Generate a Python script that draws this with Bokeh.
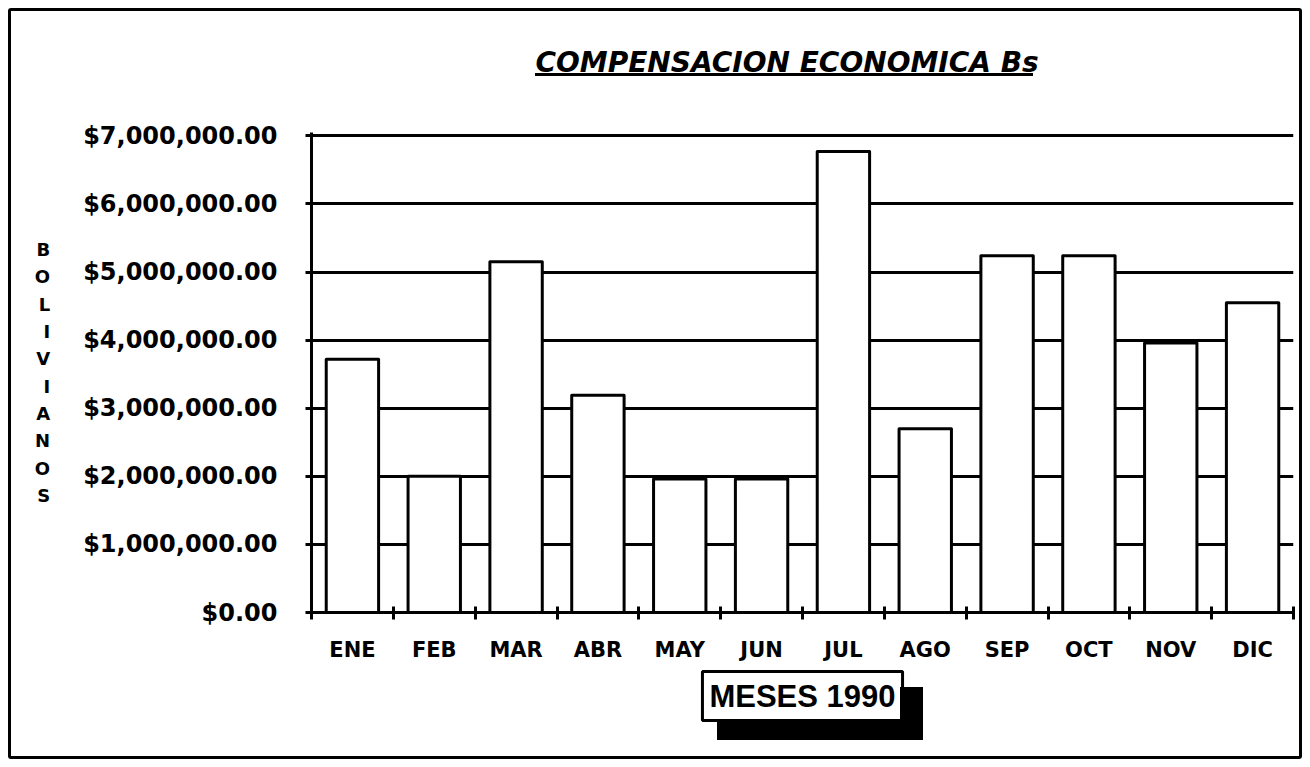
import numpy as np
from bokeh.plotting import figure
from bokeh.models import (Range1d, FixedTicker, NumeralTickFormatter, Title,
                          ColumnDataSource)
from bokeh.embed import file_html
from bokeh.resources import INLINE

# ---- data ----
months = ["ENE", "FEB", "MAR", "ABR", "MAY", "JUN",
          "JUL", "AGO", "SEP", "OCT", "NOV", "DIC"]
compensacion = [3720000, 2000000, 5150000, 3190000, 1960000, 1960000,
                6770000, 2700000, 5240000, 5240000, 3960000, 4550000]
y_ticks = [0, 1000000, 2000000, 3000000, 4000000, 5000000, 6000000, 7000000]
title_text = "COMPENSACION ECONOMICA  Bs"
y_label = "BOLIVIANOS"
x_label = "MESES 1990"

BORDER = 3
W = 1300 - 2 * BORDER
H = 757 - 2 * BORDER

# decorations (title underline, drop shadow of the x label box), CSS in canvas px
deco_css = """
:host { position: relative; }
:host::after { content: ""; position: absolute; left: 524px; top: 62px;
               width: 498px; height: 3px; background: black; }
:host::before { content: ""; position: absolute; left: 706px; top: 676px;
                width: 183px; height: 33px; box-sizing: content-box;
                border-right: 23px solid black; border-bottom: 20px solid black;
                z-index: 5; pointer-events: none; }
"""

p = figure(width=W, height=H,
           x_range=Range1d(0, len(months)), y_range=Range1d(0, 7050000),
           output_backend="svg", toolbar_location=None,
           min_border_left=300, min_border_right=12,
           min_border_top=121, min_border_bottom=H - 601)
p.styles = {"border": f"{BORDER}px solid black", "border-radius": "3px",
            "margin-left": "8px", "margin-top": "8px"}
p.stylesheets = [deco_css]
p.background_fill_color = "white"
p.border_fill_color = "white"
p.outline_line_color = None

# title (lifted above the frame by a blank spacer panel)
p.title.text = title_text
p.title.align = "left"
p.title.offset = 224
p.title.standoff = 4
p.title.text_font = "DejaVu Sans"
p.title.text_font_style = "bold italic"
p.title.text_font_size = "28px"
p.title.text_color = "black"
p.add_layout(Title(text=" ", text_font_size="1px", standoff=49), "above")

xs = np.arange(len(months)) + 0.5
src = ColumnDataSource(dict(x=xs, top=compensacion, month=months))

# grid
p.xgrid.visible = False
p.ygrid.ticker = FixedTicker(ticks=y_ticks)
p.ygrid.grid_line_color = "black"
p.ygrid.grid_line_width = 3

p.vbar(x="x", top="top", bottom=0, width=0.64, source=src,
       fill_color="white", line_color="black", line_width=3, line_join="round")

# x axis
xa = p.xaxis[0]
xa.ticker = FixedTicker(ticks=list(xs), minor_ticks=list(range(len(months) + 1)))
xa.major_label_overrides = {float(x): m for x, m in zip(xs, months)}
xa.major_tick_line_color = None
xa.major_tick_in = 0
xa.major_tick_out = 0
xa.minor_tick_in = 6
xa.minor_tick_out = 7
xa.minor_tick_line_width = 3
xa.minor_tick_line_color = "black"
xa.axis_line_width = 3
xa.axis_line_color = "black"
xa.major_label_text_font = "DejaVu Sans"
xa.major_label_text_font_style = "bold"
xa.major_label_text_font_size = "21px"
xa.major_label_text_color = "black"
xa.major_label_standoff = 18

# y axis
ya = p.yaxis[0]
ya.ticker = FixedTicker(ticks=y_ticks)
ya.formatter = NumeralTickFormatter(format="$0,0.00")
ya.major_tick_in = 4
ya.major_tick_out = 6
ya.major_tick_line_width = 3
ya.major_tick_line_color = "black"
ya.minor_tick_line_color = None
ya.axis_line_width = 3
ya.axis_line_color = "black"
ya.major_label_text_font = "DejaVu Sans"
ya.major_label_text_font_style = "bold"
ya.major_label_text_font_size = "24px"
ya.major_label_text_color = "black"
ya.major_label_standoff = 28
ya.axis_label = "\n".join(y_label)
ya.axis_label_orientation = "horizontal"
ya.axis_label_text_font = "DejaVu Sans"
ya.axis_label_text_font_style = "bold"
ya.axis_label_text_font_size = "18px"
ya.axis_label_text_line_height = 1.3
ya.axis_label_text_color = "black"
ya.axis_label_standoff = 30

# x label in a bordered box
xt = Title(text=x_label, align="center", standoff=10,
           text_font="Liberation Sans", text_font_style="bold",
           text_font_size="31px", text_color="black",
           background_fill_color="white", border_line_color="black",
           border_line_width=3)
if "padding" in Title.properties():
    xt.padding = 7
p.add_layout(xt, "below")

open("out.html", "w").write(file_html(p, INLINE))
